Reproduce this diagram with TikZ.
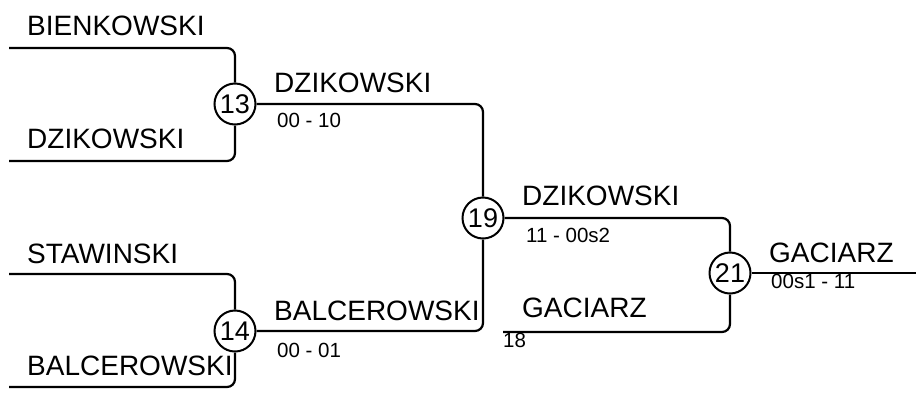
\documentclass[tikz,border=0pt]{standalone}
\usepackage{fontspec}
\setmainfont{Liberation Sans}
\usetikzlibrary{positioning}

\begin{document}
\begin{tikzpicture}[x=1pt,y=-1pt]
    \tikzstyle{every node} = [inner sep=0pt]
    \tikzstyle{game} = [draw, circle, line width=2pt, minimum size=41pt, font=\fontsize{27}{27}\selectfont]
    \tikzstyle{player} = [anchor=base west, font=\fontsize{28}{28}\selectfont]
    \tikzstyle{score} = [anchor=base west, font=\fontsize{20.5}{20.5}\selectfont]
    \tikzstyle{wire} = [line width=2.2pt, rounded corners=8pt]
    \useasboundingbox (0,0) rectangle (916,392);
    % place nodes
    \node[game] (game13) at (235,104) {13};
    \node[game] (game14) at (235,331) {14};
    \node[game] (game19) at (483,218) {19};
    \node[game] (game21) at (730,273) {21};
    \coordinate (bienkowskiIn) at (9,48);
    \coordinate (dzikowskiIn) at (9,161);
    \coordinate (stawinskiIn) at (9,274);
    \coordinate (balcerowskiIn) at (9,387);
    \coordinate (gaciarzIn) at (503,332);
    \coordinate (finalOut) at (916,273);
    % Connections
    \draw[wire] (bienkowskiIn) -| (game13);
    \draw[wire] (dzikowskiIn) -| (game13);
    \draw[wire] (stawinskiIn) -| (game14);
    \draw[wire] (balcerowskiIn) -| (game14);
    \draw[wire] (game13) -| (game19);
    \draw[wire] (game14) -| (game19);
    \draw[wire] (game19) -| (game21);
    \draw[wire] (gaciarzIn) -| (game21);
    \draw[wire] (game21) -- (finalOut);
    % labels
    \node[player] (bienkowskiName) at (27,35) {BIENKOWSKI};
    \node[player] (dzikowskiName) at (27,148) {DZIKOWSKI};
    \node[player] (stawinskiName) at (27,263) {STAWINSKI};
    \node[player] (balcerowskiName) at (27,375) {BALCEROWSKI};
    \node[player] (winner13) at (274,92) {DZIKOWSKI};
    \node[score] (score13) at (277,127) {00 - 10};
    \node[player] (winner14) at (274,320) {BALCEROWSKI};
    \node[score] (score14) at (277,357) {00 - 01};
    \node[player] (winner19) at (522,205) {DZIKOWSKI};
    \node[score] (score19) at (526,242) {11 - 00s2};
    \node[player] (gaciarzName) at (522,317) {GACIARZ};
    \node[score] (seed18) at (503,347) {18};
    \node[player] (winner21) at (769,262) {GACIARZ};
    \node[score] (score21) at (771,288) {00s1 - 11};
\end{tikzpicture}
\end{document}
